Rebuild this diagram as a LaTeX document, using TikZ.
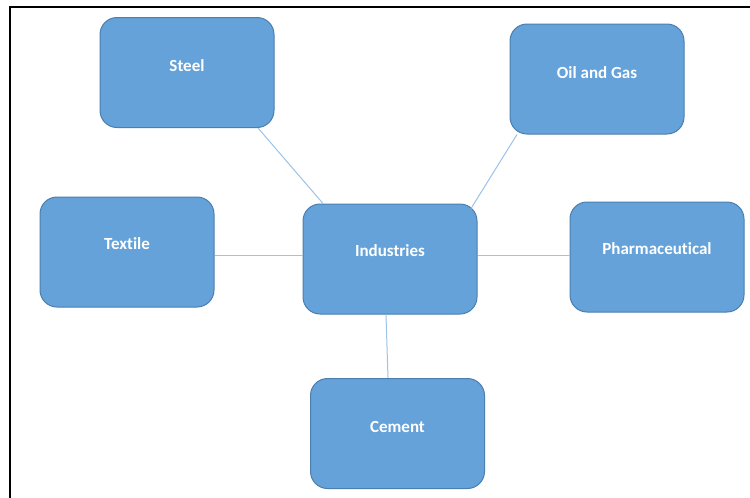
\documentclass[tikz,border=0pt]{standalone}
\usepackage{fontspec}
\setmainfont[Ligatures=NoCommon]{Carlito}
\definecolor{boxfill}{HTML}{64A2D9}
\definecolor{boxline}{HTML}{4A7FAE}
\definecolor{linkline}{HTML}{9DC3E6}
\begin{document}
\begin{tikzpicture}[x=1pt,y=-1pt,
  topic/.style={draw=boxline, line width=1pt, fill=boxfill, rounded corners=17pt,
    minimum width=174pt, minimum height=110pt, inner sep=0pt},
  label/.style={text=white, font=\bfseries\fontsize{17}{20}\selectfont},
  link/.style={draw=linkline, line width=1pt}]
  \useasboundingbox (0,0) rectangle (750,498);
  \fill[white] (0,0) rectangle (750,498);
  % frame
  \draw[line width=1.3pt] (10,498) coordinate (fa) -- (10,7) coordinate (fb) -- (750,7) coordinate (fc);

  % boxes
  \node[topic] (steel) at (187,72.5) {};
  \node[topic] (oil)   at (597,79)   {};
  \node[topic] (tex)   at (127,252)  {};
  \node[topic] (ind)   at (390,259)  {};
  \node[topic] (ph)    at (657,257)  {};
  \node[topic] (cem)   at (397.5,433.5) {};

  % connectors
  \draw[link] ([xshift=71pt]steel.south) -- ([xshift=-67pt]ind.north);
  \draw[link] ([xshift=-80pt]oil.south) -- ([xshift=81pt,yshift=-5pt]ind.north);
  \draw[link] (tex.east |- 0,255) -- (ind.west |- 0,255);
  \draw[link] (ind.east |- 0,255) -- (ph.west |- 0,255);
  \draw[link] ([xshift=-4pt]ind.south) -- ([xshift=-9.5pt]cem.north);

  % labels
  \node[label] (tsteel) at ([yshift=7pt]steel.center) {Steel};
  \node[label] (toil)   at ([yshift=6pt]oil.center)   {Oil and Gas};
  \node[label] (ttex)   at ([yshift=8pt]tex.center)   {Textile};
  \node[label] (tind)   at ([yshift=8pt]ind.center)   {Industries};
  \node[label] (tph)    at ([yshift=8pt]ph.center)    {Pharmaceutical};
  \node[label] (tcem)   at ([yshift=7pt]cem.center)   {Cement};
\end{tikzpicture}
\end{document}
